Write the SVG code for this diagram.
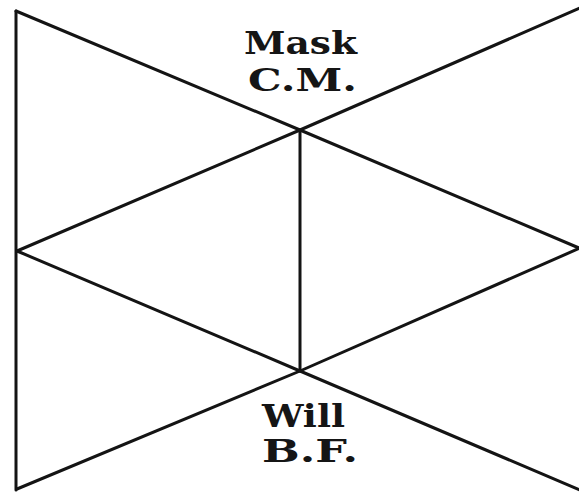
<svg xmlns="http://www.w3.org/2000/svg" width="579" height="493" viewBox="0 0 579 493">
<style>
.ln{stroke:#141414;stroke-width:3;fill:none;stroke-linejoin:round;stroke-linecap:round}
.lbl{font-family:"DejaVu Serif","Liberation Serif",serif;font-weight:bold;font-size:32px;fill:#151515;text-anchor:start}
</style>
<rect width="579" height="493" fill="#ffffff"/>
<g id="connectors">
<line class="ln" x1="16" y1="11" x2="16" y2="490"/>
<polyline class="ln" points="16,11 300,130 579,248"/>
<polyline class="ln" points="580,8 300,130 17,251"/>
<line class="ln" x1="300" y1="130" x2="300" y2="371"/>
<polyline class="ln" points="17,251 300,371 580,490"/>
<polyline class="ln" points="580,248 300,371 17,489"/>
</g>
<g id="node-mask">
<text class="lbl" x="244" y="54" textLength="113" lengthAdjust="spacingAndGlyphs">Mask</text>
<text class="lbl" x="248" y="91" textLength="109" lengthAdjust="spacingAndGlyphs">C.M.</text>
</g>
<g id="node-will">
<text class="lbl" x="262" y="427" textLength="83" lengthAdjust="spacingAndGlyphs">Will</text>
<text class="lbl" x="262" y="462" textLength="96" lengthAdjust="spacingAndGlyphs">B.F.</text>
</g>
</svg>
